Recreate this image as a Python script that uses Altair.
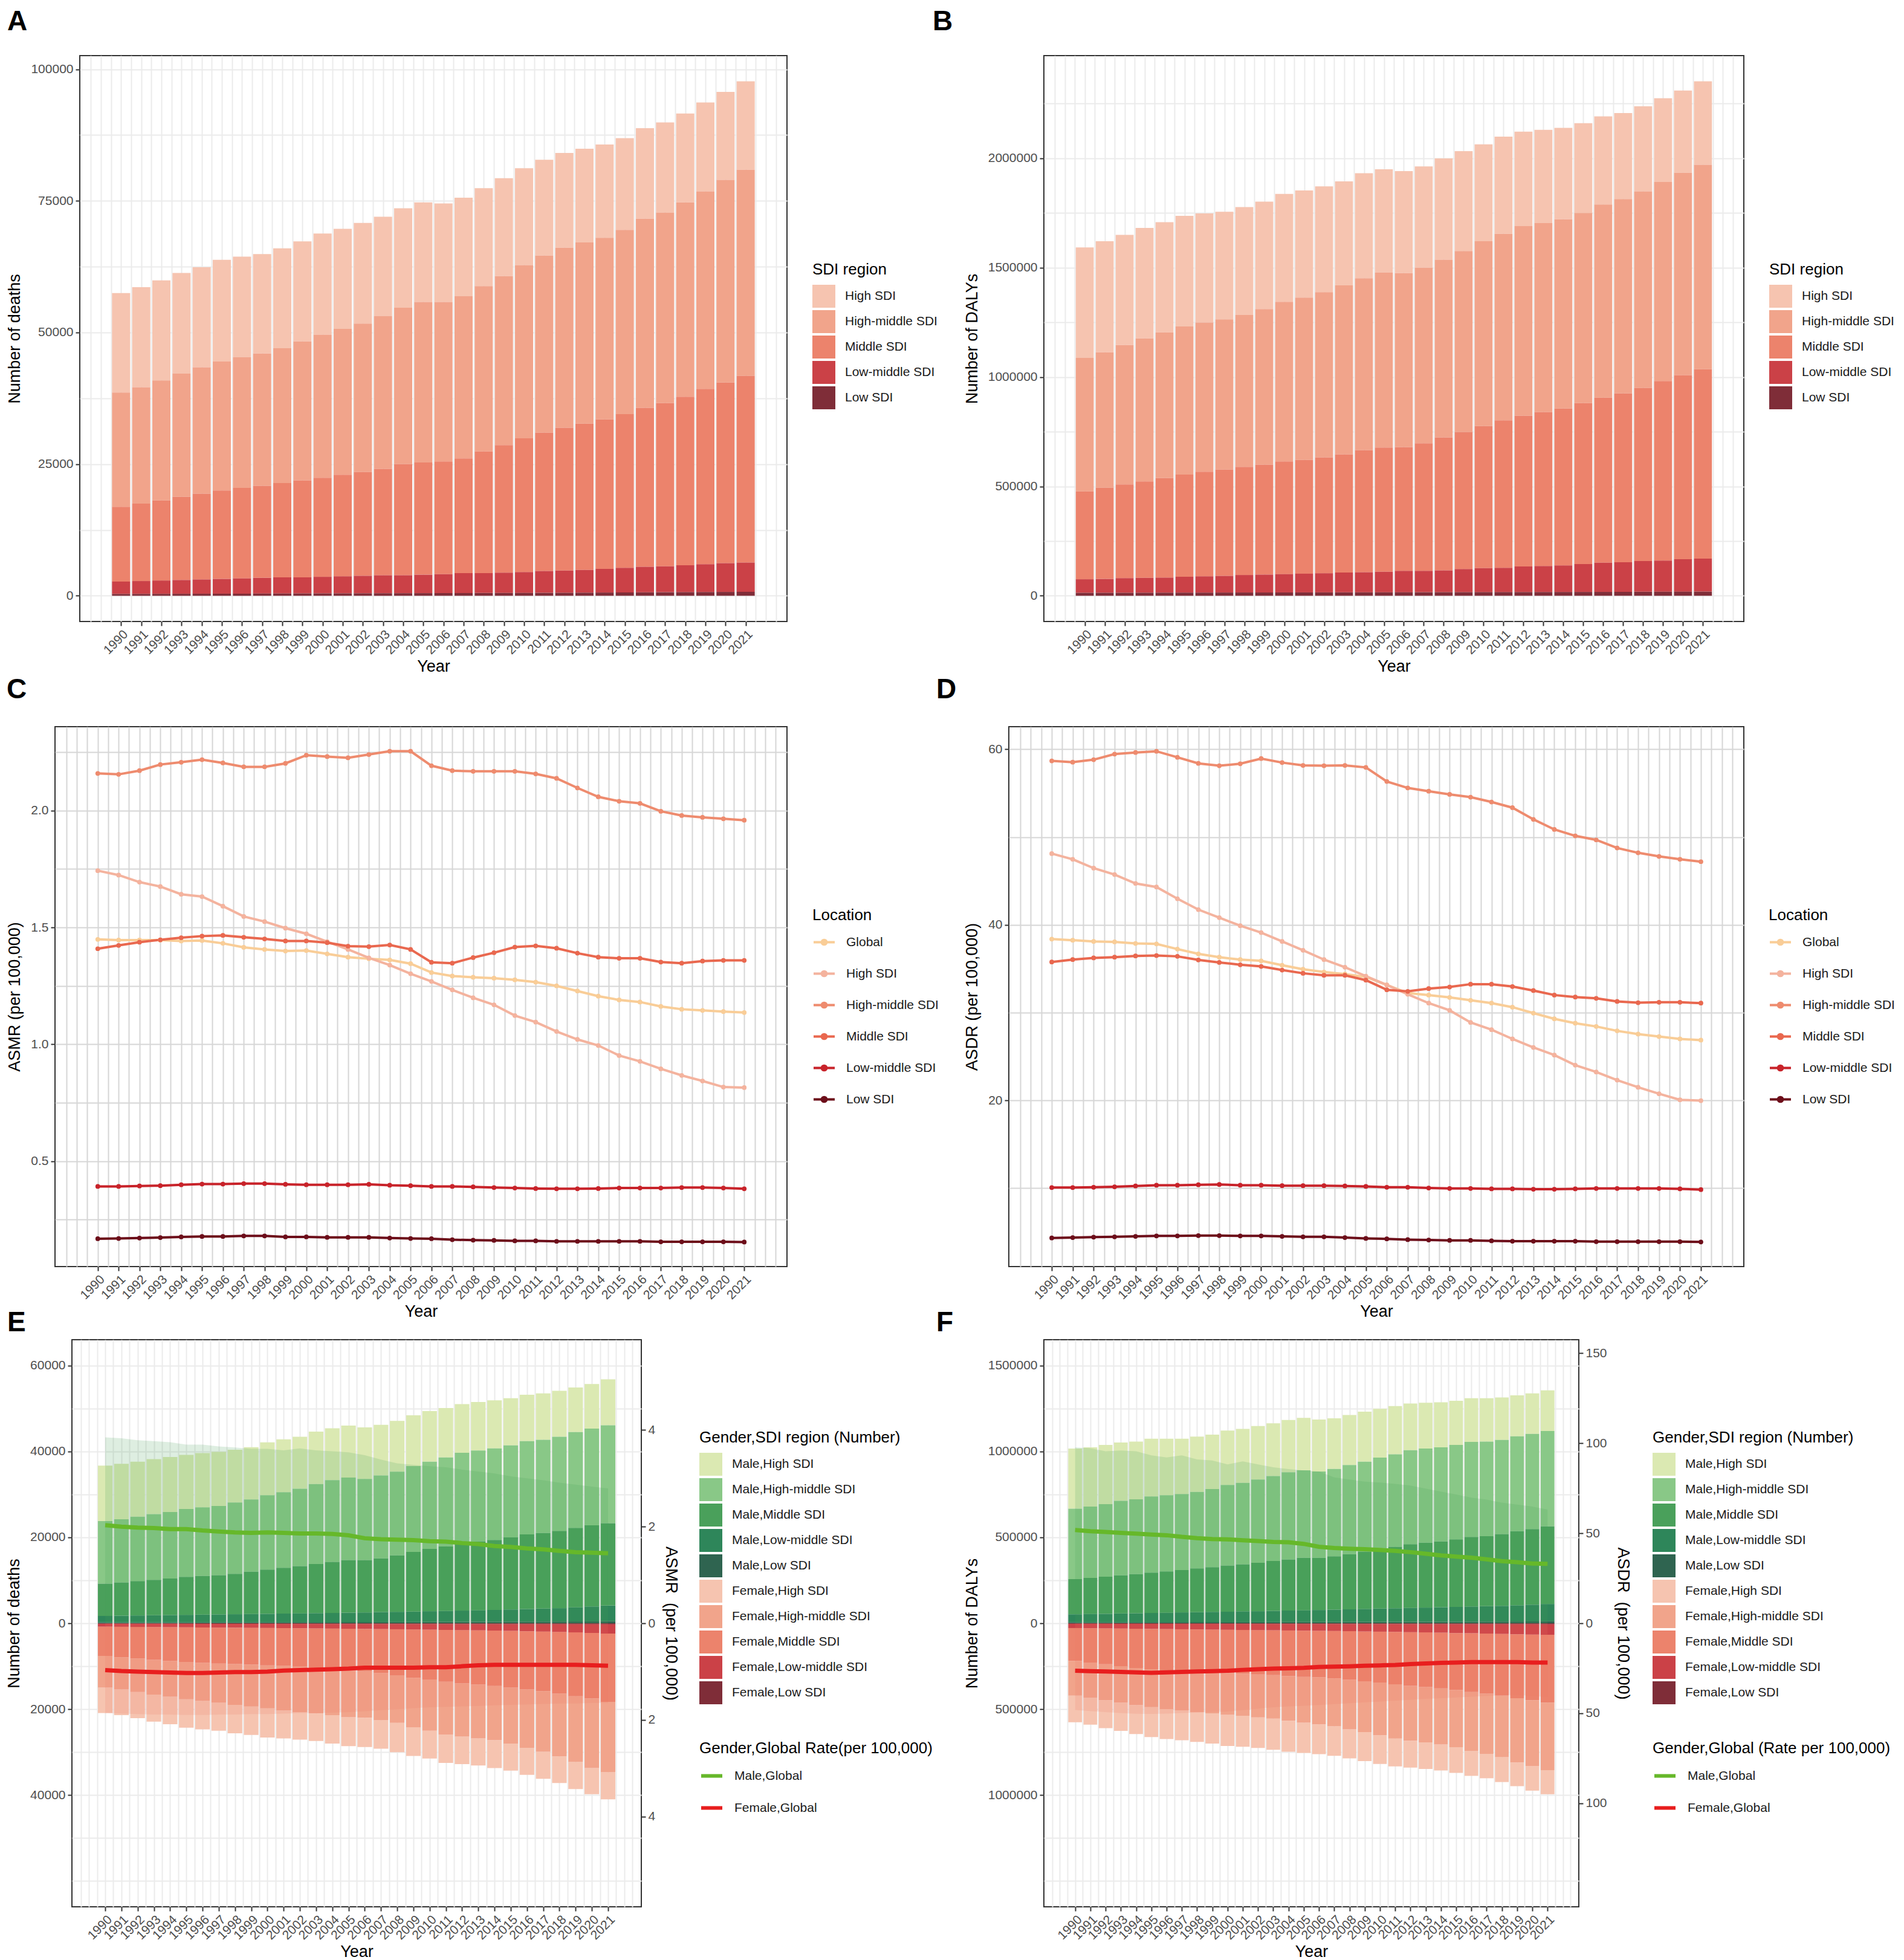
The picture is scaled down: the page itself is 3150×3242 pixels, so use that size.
import altair as alt
import pandas as pd

FONT = "Liberation Sans"

years = list(range(1990, 2022))
sdi_regions = ["High SDI", "High-middle SDI", "Middle SDI", "Low-middle SDI", "Low SDI"]
locations = ["Global", "High SDI", "High-middle SDI", "Middle SDI", "Low-middle SDI", "Low SDI"]

red_colors = ["#F6C4B0", "#F1A48B", "#EC836C", "#CB4147", "#7F2D38"]
green_colors = ["#DBE9B2", "#89C887", "#4AA05B", "#2E865A", "#2F6450"]
line_colors = ["#F9CD97", "#F4B39E", "#EE8B6E", "#E9684F", "#C8232A", "#6D0E1A"]

# ---------------- Panel A: number of deaths ----------------
deaths_high = [18900, 19000, 19000, 19100, 19000, 19300, 19100, 18900, 19000, 19000, 19200, 19000, 19100, 18900, 18900, 18900,
               18700, 18700, 18600, 18600, 18400, 18200, 18000, 17800, 17700, 17400, 17200, 17100, 16900, 16900, 16700, 16800]
deaths_hm = [21700, 22100, 22800, 23400, 24000, 24500, 24800, 25100, 25600, 26400, 27200, 27700, 28200, 29000, 29700, 30500,
             30300, 30800, 31400, 32100, 32900, 33600, 34200, 34400, 34500, 35000, 35900, 36200, 36900, 37500, 38500, 39100]
deaths_mid = [14200, 14700, 15200, 15800, 16300, 16800, 17200, 17500, 17900, 18400, 18800, 19300, 19700, 20200, 21100, 21300,
              21400, 21800, 23100, 24200, 25400, 26300, 27100, 27800, 28400, 29200, 30200, 31000, 32000, 33300, 34300, 35500]
deaths_lm = [2350, 2440, 2530, 2620, 2710, 2800, 2890, 2980, 3070, 3060, 3150, 3240, 3330, 3420, 3410, 3500,
             3590, 3780, 3770, 3860, 3950, 4140, 4230, 4310, 4490, 4670, 4850, 4930, 5110, 5290, 5470, 5550]
deaths_low = [350, 360, 370, 380, 390, 400, 410, 420, 430, 440, 450, 460, 470, 480, 490, 500,
              510, 520, 530, 540, 550, 560, 570, 590, 610, 630, 650, 670, 690, 710, 730, 750]

# ---------------- Panel B: number of DALYs ----------------
dalys_high = [505000, 508000, 504000, 505000, 504000, 506000, 499000, 492000, 493000, 491000, 493000, 490000, 484000, 476000, 480000, 473000,
              467000, 463000, 463000, 457000, 443000, 444000, 432000, 426000, 418000, 411000, 403000, 393000, 389000, 383000, 376000, 381000]
dalys_hm = [610000, 619000, 637000, 654000, 666000, 677000, 682000, 687000, 695000, 711000, 730000, 742000, 755000, 772000, 786000, 799000,
            795000, 803000, 813000, 827000, 845000, 853000, 867000, 864000, 865000, 869000, 883000, 889000, 898000, 910000, 925000, 935000]
dalys_mid = [402000, 417000, 428000, 441000, 455000, 467000, 478000, 486000, 494000, 503000, 515000, 520000, 530000, 541000, 558000, 568000,
             566000, 583000, 608000, 627000, 650000, 674000, 689000, 704000, 717000, 736000, 755000, 772000, 792000, 821000, 842000, 866000]
dalys_lm = [62000, 63300, 67100, 68000, 68800, 72600, 74500, 76300, 80100, 82000, 83800, 85700, 87500, 90400, 92200, 94100,
            97900, 97800, 99600, 105500, 109300, 111200, 117000, 118900, 121700, 127500, 133300, 135100, 140800, 142500, 148200, 151000]
dalys_low = [13500, 13700, 13900, 14000, 14200, 14400, 14500, 14700, 14900, 15000, 15200, 15300, 15500, 15600, 15800, 15900,
             16100, 16200, 16400, 16500, 16700, 16800, 17000, 17100, 17300, 17500, 17700, 17900, 18200, 18500, 18800, 19000]

# ---------------- Panel C: ASMR ----------------
asmr_global = [1.449, 1.446, 1.446, 1.446, 1.442, 1.444, 1.432, 1.415, 1.406, 1.399, 1.401, 1.387, 1.373, 1.366, 1.361, 1.345,
               1.307, 1.292, 1.287, 1.283, 1.276, 1.266, 1.250, 1.228, 1.206, 1.190, 1.181, 1.162, 1.150, 1.145, 1.140, 1.136]
asmr_high = [1.743, 1.724, 1.694, 1.675, 1.642, 1.632, 1.591, 1.547, 1.525, 1.497, 1.473, 1.439, 1.406, 1.370, 1.339, 1.302,
             1.269, 1.233, 1.199, 1.169, 1.123, 1.095, 1.055, 1.021, 0.995, 0.952, 0.927, 0.895, 0.867, 0.843, 0.817, 0.815]
asmr_hm = [2.159, 2.155, 2.171, 2.197, 2.207, 2.218, 2.204, 2.187, 2.187, 2.202, 2.237, 2.231, 2.226, 2.240, 2.254, 2.254,
           2.192, 2.171, 2.168, 2.168, 2.168, 2.157, 2.138, 2.097, 2.059, 2.040, 2.031, 1.997, 1.979, 1.971, 1.965, 1.959]
asmr_mid = [1.409, 1.423, 1.437, 1.447, 1.456, 1.463, 1.466, 1.458, 1.451, 1.442, 1.442, 1.435, 1.420, 1.418, 1.425, 1.406,
            1.351, 1.347, 1.371, 1.392, 1.416, 1.421, 1.411, 1.390, 1.373, 1.368, 1.368, 1.352, 1.347, 1.356, 1.359, 1.359]
asmr_lm = [0.392, 0.392, 0.394, 0.395, 0.399, 0.402, 0.402, 0.404, 0.404, 0.401, 0.399, 0.399, 0.399, 0.401, 0.397, 0.395,
           0.392, 0.392, 0.390, 0.387, 0.385, 0.383, 0.382, 0.382, 0.383, 0.385, 0.385, 0.385, 0.387, 0.387, 0.385, 0.382]
asmr_low = [0.168, 0.169, 0.171, 0.173, 0.176, 0.178, 0.178, 0.180, 0.180, 0.176, 0.176, 0.174, 0.174, 0.174, 0.171, 0.169,
            0.168, 0.164, 0.162, 0.161, 0.159, 0.159, 0.157, 0.157, 0.157, 0.157, 0.157, 0.155, 0.155, 0.155, 0.155, 0.154]

# ---------------- Panel D: ASDR ----------------
asdr_global = [38.38, 38.25, 38.11, 38.06, 37.88, 37.83, 37.24, 36.69, 36.32, 36.04, 35.90, 35.40, 34.94, 34.62, 34.39, 34.07,
               33.15, 32.23, 32.00, 31.73, 31.40, 31.08, 30.62, 29.94, 29.29, 28.79, 28.42, 27.92, 27.55, 27.27, 27.00, 26.86]
asdr_high = [48.12, 47.47, 46.46, 45.73, 44.72, 44.31, 42.98, 41.74, 40.82, 39.90, 39.12, 38.11, 37.10, 36.04, 35.17, 34.16,
             33.15, 32.09, 31.08, 30.26, 28.88, 28.05, 27.00, 26.03, 25.16, 24.01, 23.23, 22.31, 21.49, 20.75, 20.06, 19.97]
asdr_hm = [58.68, 58.54, 58.82, 59.46, 59.64, 59.78, 59.09, 58.40, 58.13, 58.36, 58.95, 58.49, 58.17, 58.13, 58.17, 57.94,
           56.34, 55.60, 55.23, 54.87, 54.55, 54.00, 53.35, 52.02, 50.87, 50.14, 49.68, 48.76, 48.21, 47.80, 47.47, 47.20]
asdr_mid = [35.77, 36.04, 36.23, 36.32, 36.46, 36.50, 36.41, 36.00, 35.72, 35.45, 35.26, 34.85, 34.48, 34.25, 34.25, 33.70,
            32.60, 32.42, 32.74, 32.92, 33.24, 33.24, 32.97, 32.51, 32.00, 31.77, 31.63, 31.27, 31.13, 31.18, 31.18, 31.08]
asdr_lm = [10.06, 10.06, 10.10, 10.15, 10.24, 10.33, 10.33, 10.38, 10.42, 10.33, 10.33, 10.28, 10.28, 10.28, 10.24, 10.19,
           10.10, 10.10, 10.01, 9.96, 9.96, 9.92, 9.92, 9.87, 9.87, 9.92, 9.96, 9.96, 9.96, 9.96, 9.92, 9.83]
asdr_low = [4.32, 4.36, 4.41, 4.45, 4.50, 4.55, 4.55, 4.59, 4.59, 4.55, 4.55, 4.50, 4.45, 4.45, 4.36, 4.27,
            4.22, 4.13, 4.09, 4.04, 4.04, 3.99, 3.95, 3.95, 3.95, 3.95, 3.90, 3.90, 3.90, 3.90, 3.90, 3.86]

# ---------------- Panel E: deaths by gender ----------------
e_male_high = [12900, 12900, 12800, 12800, 12800, 12600, 12600, 12600, 12300, 12200, 12300, 12300, 12100, 12200, 12100, 12100,
               12000, 11800, 11800, 11800, 11800, 11500, 11300, 11300, 11200, 11000, 10800, 10800, 10700, 10400, 10400, 10700]
e_male_hm = [14600, 14700, 15000, 15300, 15500, 15800, 16000, 16100, 16600, 16800, 17300, 17600, 18000, 18600, 19000, 19200,
             18900, 19300, 19500, 20000, 20300, 20700, 21100, 21200, 21300, 21400, 21700, 21700, 21900, 22300, 22500, 22800]
e_male_mid = [7500, 7750, 8000, 8250, 8500, 8850, 9000, 9150, 9400, 9850, 10300, 10650, 11000, 11450, 11900, 12250,
              12200, 12500, 13150, 13900, 14500, 15050, 15650, 16000, 16300, 16800, 17400, 17600, 18000, 18500, 18900, 19200]
e_male_lm = [1500, 1545, 1590, 1635, 1680, 1725, 1770, 1815, 1860, 1905, 1950, 1995, 2040, 2085, 2130, 2170,
             2215, 2310, 2350, 2390, 2480, 2520, 2610, 2650, 2740, 2830, 2920, 3010, 3100, 3285, 3470, 3650]
e_male_low = [200, 205, 210, 215, 220, 225, 230, 235, 240, 245, 250, 255, 260, 265, 270, 280,
              285, 290, 300, 310, 320, 330, 340, 350, 360, 370, 380, 390, 400, 415, 430, 450]
e_female_high = [5900, 6000, 6100, 6300, 6400, 6600, 6600, 6500, 6600, 6600, 6800, 6500, 6400, 6400, 6600, 6700,
                 6800, 6600, 6800, 6700, 6500, 6600, 6400, 6300, 6500, 6300, 6300, 6300, 6200, 6300, 6100, 6300]
e_female_hm = [7400, 7500, 7800, 8100, 8300, 8700, 8900, 9100, 9500, 9800, 10000, 10400, 10600, 10600, 10600, 10900,
               10800, 11000, 11100, 11500, 11900, 12300, 12400, 12500, 12600, 13000, 13600, 14100, 14600, 15300, 16200, 16400]
e_female_mid = [6800, 7070, 7340, 7610, 7880, 8050, 8220, 8390, 8460, 8530, 8700, 8770, 8940, 9200, 9560, 9720,
                9880, 10240, 10700, 11250, 11600, 12050, 12400, 12650, 12900, 13220, 13540, 13860, 14380, 14880, 15250, 15900]
e_female_lm = [700, 725, 750, 775, 800, 825, 850, 875, 900, 925, 950, 975, 1000, 1035, 1070, 1105,
               1140, 1175, 1210, 1255, 1300, 1345, 1390, 1435, 1480, 1555, 1630, 1705, 1780, 1875, 2000, 2145]
e_female_low = [100, 105, 110, 115, 120, 125, 130, 135, 140, 145, 150, 155, 160, 165, 170, 175,
                180, 185, 190, 195, 200, 205, 210, 215, 220, 225, 230, 235, 240, 245, 250, 255]
e_male_rate = [2.03, 2.00, 1.98, 1.97, 1.95, 1.95, 1.92, 1.90, 1.88, 1.87, 1.88, 1.87, 1.86, 1.86, 1.85, 1.82,
               1.76, 1.74, 1.73, 1.72, 1.70, 1.69, 1.66, 1.64, 1.60, 1.58, 1.55, 1.53, 1.50, 1.47, 1.46, 1.45]
e_female_rate = [0.97, 0.99, 1.00, 1.01, 1.02, 1.03, 1.03, 1.02, 1.01, 1.01, 1.00, 0.98, 0.97, 0.96, 0.95, 0.94,
                 0.92, 0.92, 0.92, 0.92, 0.91, 0.91, 0.89, 0.87, 0.86, 0.86, 0.86, 0.86, 0.86, 0.86, 0.87, 0.88]
e_male_shade = [3.85, 3.83, 3.79, 3.77, 3.75, 3.70, 3.70, 3.66, 3.64, 3.61, 3.61, 3.58, 3.62, 3.58, 3.56, 3.54,
                3.48, 3.39, 3.31, 3.28, 3.25, 3.23, 3.18, 3.14, 3.10, 3.04, 3.00, 2.96, 2.91, 2.87, 2.83, 2.79]
e_female_shade = [1.86, 1.87, 1.88, 1.89, 1.89, 1.90, 1.90, 1.89, 1.89, 1.88, 1.88, 1.87, 1.86, 1.86, 1.85, 1.84,
                  1.82, 1.80, 1.78, 1.76, 1.74, 1.73, 1.72, 1.71, 1.70, 1.69, 1.68, 1.67, 1.66, 1.66, 1.65, 1.65]

# ---------------- Panel F: DALYs by gender ----------------
f_male_high = [350000, 345000, 345000, 340000, 336000, 336000, 329000, 322000, 322000, 317000, 316000, 314000, 312000, 307000, 304000, 305000,
               303000, 295000, 291000, 291000, 284000, 281000, 272000, 266000, 262000, 257000, 255000, 253000, 247000, 238000, 236000, 236000]
f_male_hm = [410000, 415000, 422000, 433000, 435000, 443000, 443000, 442000, 445000, 455000, 469000, 474000, 484000, 495000, 508000, 509000,
             502000, 508000, 519000, 523000, 533000, 538000, 547000, 548000, 548000, 550000, 553000, 550000, 548000, 552000, 554000, 555000]
f_male_mid = [205000, 210000, 216000, 222000, 228000, 235000, 241000, 247000, 255000, 260000, 269000, 274000, 282000, 290000, 297000, 306000,
              304000, 311000, 321000, 334000, 346000, 358000, 371000, 378000, 383000, 393000, 405000, 408000, 418000, 432000, 440000, 452000]
f_male_lm = [46000, 47900, 48800, 50700, 51500, 53400, 54300, 56200, 57000, 58900, 59800, 61700, 62600, 64400, 66300, 67200,
             69100, 71000, 72900, 74700, 76600, 78500, 80300, 82200, 84000, 85800, 87600, 89400, 91100, 93800, 97400, 101000]
f_male_low = [6000, 6100, 6200, 6300, 6500, 6600, 6700, 6800, 7000, 7100, 7200, 7300, 7400, 7600, 7700, 7800,
              7900, 8000, 8100, 8300, 8400, 8500, 8700, 8800, 9000, 9200, 9400, 9600, 9900, 10200, 10600, 11000]
f_female_high = [155000, 157000, 162000, 164000, 169000, 174000, 174000, 174000, 173000, 176000, 181000, 181000, 178000, 181000, 181000, 176000,
                 174000, 171000, 169000, 169000, 167000, 162000, 157000, 155000, 152000, 150000, 145000, 142000, 145000, 138000, 143000, 140000]
f_female_hm = [202000, 204000, 210000, 212000, 216000, 221000, 226000, 228000, 234000, 238000, 243000, 245000, 250000, 253000, 260000, 267000,
               274000, 279000, 288000, 295000, 307000, 316000, 319000, 322000, 326000, 333000, 343000, 350000, 358000, 374000, 383000, 393000]
f_female_mid = [191000, 200000, 208000, 219000, 228000, 234000, 240000, 244000, 247000, 249000, 252000, 254000, 258000, 261000, 265000, 269000,
                270000, 276000, 283000, 290000, 296000, 305000, 312000, 318000, 324000, 331000, 342000, 350000, 359000, 372000, 382000, 395000]
f_female_lm = [25000, 25900, 26800, 27700, 28600, 29500, 30400, 31300, 32200, 33100, 34000, 34900, 35800, 36700, 37600, 38500,
               39400, 40300, 41200, 43100, 44000, 44900, 46800, 47700, 49600, 51500, 52400, 54300, 56200, 58100, 60000, 60900]
f_female_low = [3000, 3100, 3200, 3300, 3400, 3500, 3600, 3700, 3800, 3900, 4000, 4100, 4200, 4300, 4400, 4500,
                4600, 4700, 4800, 4900, 5000, 5100, 5200, 5300, 5400, 5500, 5600, 5700, 5800, 5900, 6000, 6100]
f_male_rate = [51.8, 51.1, 50.7, 50.2, 49.8, 49.3, 48.9, 48.0, 47.3, 46.8, 46.6, 46.1, 45.7, 45.2, 45.0, 44.1,
               42.5, 41.8, 41.4, 41.1, 40.7, 40.2, 39.5, 38.6, 37.7, 37.0, 36.4, 35.5, 34.5, 33.9, 33.2, 33.0]
f_female_rate = [26.4, 26.6, 26.8, 27.0, 27.3, 27.5, 27.3, 27.0, 26.8, 26.6, 26.4, 25.9, 25.5, 25.2, 25.0, 24.8,
                 24.3, 24.1, 23.9, 23.6, 23.4, 23.2, 22.7, 22.3, 22.0, 21.8, 21.6, 21.6, 21.6, 21.6, 21.8, 21.8]
f_male_shade = [97.7, 97.2, 95.5, 96.0, 95.5, 93.3, 92.1, 93.3, 91.0, 90.4, 88.2, 89.9, 88.2, 86.6, 85.6, 84.9,
                84.3, 81.0, 79.8, 78.7, 78.2, 77.4, 76.5, 74.8, 73.1, 71.5, 69.8, 68.7, 67.0, 65.9, 64.8, 63.1]
f_female_shade = [48.2, 48.8, 49.4, 49.9, 50.3, 50.4, 50.2, 49.9, 49.6, 49.3, 49.0, 48.3, 47.4, 46.7, 46.2, 45.8,
                  45.4, 44.9, 44.4, 43.9, 43.5, 43.0, 42.5, 42.0, 41.6, 41.2, 40.8, 40.4, 40.0, 39.8, 40.3, 41.0]

# ---------------- helpers ----------------
half_years = [1988.5 + 0.5 * i for i in range(69)]
X_DOMAIN = [1987.95, 2023.05]
YEAR_TEST = "datum.value > 1989.9 && datum.value < 2021.1 && abs(datum.value - round(datum.value)) < 0.01"
LEG_TITLE = 26
LEG_LABEL = 21


def x_axis(grid_color):
    return alt.Axis(values=half_years, title="Year",
                    labelExpr=f"({YEAR_TEST}) ? format(round(datum.value), 'd') : ''",
                    labelAngle=-45, labelAlign="right", labelBaseline="top",
                    labelOverlap=False, labelFlush=False, labelPadding=3,
                    tickOpacity={"condition": {"test": YEAR_TEST, "value": 1}, "value": 0},
                    grid=True, gridColor=grid_color, gridWidth=2, titlePadding=4)


def y_axis(values, test, label_expr, title, grid_color, fmt="d"):
    return alt.Axis(values=values, title=title, format=fmt,
                    labelExpr=f"({test}) ? {label_expr} : ''",
                    tickOpacity={"condition": {"test": test, "value": 1}, "value": 0},
                    labelOverlap=False, labelFlush=False,
                    grid=True, gridColor=grid_color, gridWidth=2, titlePadding=12)


def letter_title(letter, dx, offset):
    return alt.Title(letter, anchor="start", frame="group", dx=dx, offset=offset,
                     fontSize=46, fontWeight="bold", font=FONT, color="black")


def sq_legend(title, lx, ly):
    return alt.Legend(title=title, orient="none", legendX=lx, legendY=ly,
                      symbolType="square", symbolSize=1444, symbolStrokeWidth=0,
                      rowPadding=4, labelOffset=16, titlePadding=12, titleLimit=0, labelLimit=0,
                      titleFontSize=LEG_TITLE, labelFontSize=LEG_LABEL, titleFontWeight="normal")


def region_long(series, name_field):
    rows = []
    for idx, (name, vals) in enumerate(series):
        for yr, v in zip(years, vals):
            rows.append({"year": yr, name_field: name, "value": v, "idx": idx})
    return pd.DataFrame(rows)


def bar_panel(series, field, colors, y_title, y_domain, y_values, y_test, width, height,
              letter, letter_dx, letter_off, lx, ly):
    df = region_long(series, field)
    return alt.Chart(df).transform_calculate(
        x0="datum.year - 0.45", x1="datum.year + 0.45"
    ).transform_stack(
        stack="value", as_=["v0", "v1"], groupby=["year"],
        sort=[alt.SortField("idx", order="descending")]
    ).mark_bar().encode(
        x=alt.X("x0:Q", scale=alt.Scale(domain=X_DOMAIN, nice=False, zero=False), axis=x_axis("#EBEBEB")),
        x2="x1:Q",
        y=alt.Y("v0:Q", scale=alt.Scale(domain=y_domain, nice=False, zero=False),
                axis=y_axis(y_values, y_test, "datum.label", y_title, "#EBEBEB")),
        y2="v1:Q",
        color=alt.Color(f"{field}:N", scale=alt.Scale(domain=sdi_regions, range=colors),
                        legend=sq_legend("SDI region", lx, ly)),
    ).properties(width=width, height=height, title=letter_title(letter, letter_dx, letter_off))


def line_panel(series, field, y_title, y_domain, y_values, y_test, fmt, width, height,
               letter, letter_dx, letter_off, lx, ly):
    df = region_long(series, field)
    leg = alt.Legend(title="Location", orient="none", legendX=lx, legendY=ly,
                     symbolType="M-1,0L1,0M-0.22,0A0.22,0.22,0,1,1,0.22,0A0.22,0.22,0,1,1,-0.22,0Z",
                     symbolSize=1225, symbolStrokeWidth=4, rowPadding=20, labelOffset=17,
                     titlePadding=12, titleLimit=0, labelLimit=0,
                     titleFontSize=LEG_TITLE, labelFontSize=LEG_LABEL, titleFontWeight="normal")
    base = alt.Chart(df).encode(
        x=alt.X("year:Q", scale=alt.Scale(domain=X_DOMAIN, nice=False, zero=False), axis=x_axis("#D6D6D6")),
        y=alt.Y("value:Q", scale=alt.Scale(domain=y_domain, nice=False, zero=False),
                axis=y_axis(y_values, y_test, "datum.label", y_title, "#D6D6D6", fmt)),
        color=alt.Color(f"{field}:N", scale=alt.Scale(domain=locations, range=line_colors), legend=leg),
    )
    lines = base.mark_line(strokeWidth=4)
    pts = base.mark_point(filled=True, size=60, opacity=1)
    return alt.layer(lines, pts).properties(width=width, height=height,
                                            title=letter_title(letter, letter_dx, letter_off))


def gender_panel(male, female, field, ser_field, male_rate, female_rate, male_shade, female_shade,
                 y_title, y2_title, y_lim, y2_lim, y_values, y_test, y2_values, rate_legend_title,
                 width, height, letter, letter_dx, letter_off, lx, ly1, ly2):
    rows = []
    names = []
    for idx, (reg, vals) in enumerate(zip(sdi_regions, male)):
        names.append("Male," + reg)
        for yr, v in zip(years, vals):
            rows.append({"year": yr, field: "Male," + reg, "value": v, "idx": idx})
    for idx, (reg, vals) in enumerate(zip(sdi_regions, female)):
        names.append("Female," + reg)
        for yr, v in zip(years, vals):
            rows.append({"year": yr, field: "Female," + reg, "value": -v, "idx": idx})
    df = pd.DataFrame(rows)

    xenc = alt.X("x0:Q", scale=alt.Scale(domain=X_DOMAIN, nice=False, zero=False), axis=x_axis("#EBEBEB"))
    bars = alt.Chart(df).transform_calculate(
        x0="datum.year - 0.45", x1="datum.year + 0.45"
    ).transform_stack(
        stack="value", as_=["v0", "v1"], groupby=["year"],
        sort=[alt.SortField("idx", order="descending")]
    ).mark_bar().encode(
        x=xenc, x2="x1:Q",
        y=alt.Y("v0:Q", scale=alt.Scale(domain=[-y_lim, y_lim], nice=False, zero=False),
                axis=y_axis(y_values, y_test, "format(abs(datum.value), 'd')", y_title, "#EBEBEB")),
        y2="v1:Q",
        color=alt.Color(f"{field}:N", scale=alt.Scale(domain=names, range=green_colors + red_colors),
                        legend=sq_legend("Gender,SDI region (Number)", lx, ly1)),
    )

    rate_df = pd.DataFrame({"year": years, "male_shade": male_shade, "female_shade": female_shade})
    line_rows = []
    for yr, v in zip(years, male_rate):
        line_rows.append({"year": yr, ser_field: "Male,Global", "rate": v})
    for yr, v in zip(years, female_rate):
        line_rows.append({"year": yr, ser_field: "Female,Global", "rate": v})
    line_df = pd.DataFrame(line_rows)

    y2scale = alt.Scale(domain=[-y2_lim, y2_lim], nice=False, zero=False)
    y2axis = alt.Axis(values=y2_values, orient="right", title=y2_title, grid=False,
                      labelExpr="format(abs(datum.value), 'd')", labelOverlap=False, labelFlush=False,
                      titlePadding=12)
    xl = alt.X("year:Q", scale=alt.Scale(domain=X_DOMAIN, nice=False, zero=False), axis=x_axis("#EBEBEB"))
    shade_m = alt.Chart(rate_df).mark_area(color="#4AA05B", opacity=0.18).encode(
        x=xl, y=alt.Y("male_shade:Q", scale=y2scale, axis=y2axis), y2=alt.datum(0))
    shade_f = alt.Chart(rate_df).transform_calculate(neg="-datum.female_shade").mark_area(
        color="#EC7864", opacity=0.16).encode(
        x=xl, y=alt.Y("neg:Q", scale=y2scale, axis=y2axis), y2=alt.datum(0))
    lines = alt.Chart(line_df).transform_calculate(
        signed=f"datum['{ser_field}'] === 'Female,Global' ? -datum.rate : datum.rate"
    ).mark_line(strokeWidth=7).encode(
        x=xl,
        y=alt.Y("signed:Q", scale=y2scale, axis=y2axis),
        stroke=alt.Stroke(f"{ser_field}:N",
                          scale=alt.Scale(domain=["Male,Global", "Female,Global"], range=["#66B82A", "#E81E1E"]),
                          legend=alt.Legend(title=rate_legend_title, orient="none", legendX=lx, legendY=ly2,
                                            symbolType="stroke", symbolSize=1225, symbolStrokeWidth=6,
                                            rowPadding=20, labelOffset=17, titlePadding=12,
                                            titleLimit=0, labelLimit=0,
                                            titleFontSize=LEG_TITLE, labelFontSize=LEG_LABEL,
                                            titleFontWeight="normal")),
    )
    return alt.layer(bars, alt.layer(shade_m, shade_f, lines)).resolve_scale(y="independent").properties(
        width=width, height=height, title=letter_title(letter, letter_dx, letter_off))


def spacer(w, h=10):
    return alt.Chart(pd.DataFrame({"s": [0]})).mark_point(opacity=0).encode(
        x=alt.X("s:Q", axis=None), y=alt.Y("s:Q", axis=None)
    ).properties(width=w, height=h, view=alt.ViewBackground(stroke="transparent"))


# ---------------- build panels ----------------
panel_a = bar_panel(list(zip(sdi_regions, [deaths_high, deaths_hm, deaths_mid, deaths_lm, deaths_low])), "sdi_a",
                    red_colors, "Number of deaths", [-4885, 102585], [12500 * i for i in range(9)],
                    "datum.value % 25000 === 0", 1170, 936, "A", -120, 32, 1212, 341)
panel_b = bar_panel(list(zip(sdi_regions, [dalys_high, dalys_hm, dalys_mid, dalys_lm, dalys_low])), "sdi_b",
                    red_colors, "Number of DALYs", [-117600, 2469600], [250000 * i for i in range(10)],
                    "datum.value % 500000 === 0", 1158, 936, "B", -184, 32, 1200, 341)
panel_c = line_panel(list(zip(locations, [asmr_global, asmr_high, asmr_hm, asmr_mid, asmr_lm, asmr_low])), "loc_c",
                     "ASMR (per 100,000)", [0.049, 2.359], [0.25 * i for i in range(1, 10)],
                     "abs(datum.value * 2 - round(datum.value * 2)) < 0.001", ".1f", 1211, 893,
                     "C", -80, 37, 1253, 299)
panel_d = line_panel(list(zip(locations, [asdr_global, asdr_high, asdr_hm, asdr_mid, asdr_lm, asdr_low])), "loc_d",
                     "ASDR (per 100,000)", [1.06, 62.58], [10 * i for i in range(1, 7)],
                     "datum.value % 20 === 0", "d", 1216, 893, "D", -120, 37, 1257, 299)
panel_e = gender_panel([e_male_high, e_male_hm, e_male_mid, e_male_lm, e_male_low],
                       [e_female_high, e_female_hm, e_female_mid, e_female_lm, e_female_low],
                       "grp_e", "ser_e", e_male_rate, e_female_rate, e_male_shade, e_female_shade,
                       "Number of deaths", "ASMR\u00a0 (per 100,000)", 66000, 5.87,
                       [10000 * i for i in range(-6, 7)], "datum.value % 20000 === 0 && datum.value >= -40000",
                       [-4, -2, 0, 2, 4], "Gender,Global Rate(per 100,000)",
                       942, 938, "E", -107, 4, 1038, 149, 663)
panel_f = gender_panel([f_male_high, f_male_hm, f_male_mid, f_male_lm, f_male_low],
                       [f_female_high, f_female_hm, f_female_mid, f_female_lm, f_female_low],
                       "grp_f", "ser_f", f_male_rate, f_female_rate, f_male_shade, f_female_shade,
                       "Number of DALYs", "ASDR\u00a0 (per 100,000)", 1650000, 157.5,
                       [250000 * i for i in range(-6, 7)], "datum.value % 500000 === 0 && datum.value >= -1000000",
                       [-100, -50, 0, 50, 100, 150], "Gender,Global (Rate per 100,000)",
                       885, 938, "F", -178, 4, 1007, 149, 663)

row1 = alt.hconcat(spacer(41, 936), panel_a, spacer(425, 936), panel_b, spacing=0, bounds="flush")
row2 = alt.hconcat(panel_c, spacer(367, 893), panel_d, spacing=0, bounds="flush")
row3 = alt.hconcat(spacer(28, 938), panel_e, spacer(666, 938), panel_f, spacing=0, bounds="flush")
for r in (row1, row2, row3):
    r.resolve = alt.Resolve(scale=alt.ScaleResolveMap(color="independent", stroke="independent",
                                                      x="independent", y="independent"),
                            legend=alt.LegendResolveMap(color="independent", stroke="independent"))

# nested concat rows have no height of their own in a flush layout, so vertical
# gaps between rows are set with empty spacer rows
chart = alt.vconcat(row1, spacer(10, 1110), row2, spacer(10, 1014), row3, spacing=0, bounds="flush").resolve_scale(
    color="independent", stroke="independent", x="independent", y="independent"
).resolve_legend(color="independent", stroke="independent").properties(
    padding={"left": 0, "top": 4, "right": 0, "bottom": 0}, background="white"
).configure_view(
    stroke="#333333", strokeWidth=2
).configure_axis(
    labelFont=FONT, labelFontSize=21, labelColor="#4D4D4D",
    titleFont=FONT, titleFontSize=27, titleColor="black", titleFontWeight="normal",
    tickColor="#333333", tickWidth=2, tickSize=7, domain=False, labelPadding=4
).configure_legend(
    labelFont=FONT, titleFont=FONT, labelColor="#1A1A1A", titleColor="black"
)

chart.save("out.html", embed_options={"renderer": "svg", "actions": False})
